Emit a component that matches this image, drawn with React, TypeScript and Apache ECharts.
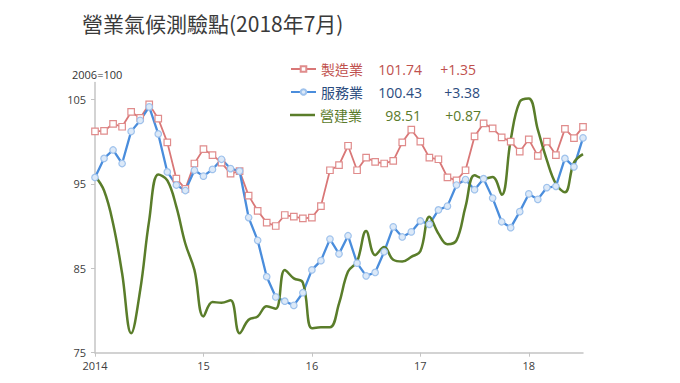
import React, { useEffect, useRef } from "react";
import * as echarts from "echarts";

// ---- data ----
const yearLabels = ["2014", "15", "16", "17", "18"];
const startYear = 2014;
const monthCount = 55; // Jan 2014 .. Jul 2018

const manufacturing = [
  101.2, 101.25, 102.1, 101.75, 103.5, 102.8, 104.4, 102.7, 99.9, 95.6, 94.4, 97.4,
  99.1, 98.4, 97.5, 96.2, 96.5, 93.6, 91.8, 90.4, 90.0, 91.3, 91.1, 90.9,
  91.0, 92.35, 96.6, 97.2, 99.5, 96.6, 98.1, 97.6, 97.4, 97.7, 99.9, 101.4,
  100.0, 98.1, 97.9, 95.75, 95.4, 96.6, 100.6, 102.15, 101.55, 100.5, 100.0, 98.8,
  100.26, 98.3, 100.0, 98.4, 101.5, 100.4, 101.74,
];
const services = [
  95.75, 98.0, 99.0, 97.4, 101.2, 102.5, 104.1, 100.9, 96.4, 94.85, 94.2, 96.6,
  95.9, 96.7, 97.9, 96.8, 96.5, 91.0, 88.3, 84.0, 81.6, 81.1, 80.6, 82.1,
  84.8, 85.9, 88.45, 86.7, 88.85, 85.6, 84.1, 84.5, 86.95, 89.9, 88.7, 89.3,
  90.6, 90.2, 91.9, 92.35, 94.85, 95.5, 94.3, 95.6, 93.3, 90.5, 89.8, 91.7,
  93.8, 93.15, 94.55, 94.7, 98.0, 97.0, 100.43,
];
const construction = [
  95.9, 94.2, 90.3, 84.4, 77.3, 82.4, 90.7, 96.1, 95.4, 92.3, 87.9, 84.8,
  79.3, 81.0, 80.9, 81.2, 77.3, 78.9, 79.3, 80.5, 80.2, 84.8, 83.8, 83.3,
  77.9, 78.0, 78.0, 80.8, 84.6, 85.8, 89.4, 86.55, 87.5, 86.0, 85.8, 86.35,
  87.0, 91.1, 89.1, 87.85, 88.3, 92.3, 96.0, 95.6, 95.8, 93.7, 100.2, 104.7,
  105.1, 101.4, 97.8, 95.0, 94.0, 97.5, 98.51,
];
const seriesNames = ["製造業", "服務業", "營建業"];
const latestValues = ["101.74", "100.43", "98.51"];
const changes = ["+1.35", "+3.38", "+0.87"];
const yTicks = [75, 85, 95, 105];

const months: string[] = [];
for (let i = 0; i < monthCount; i++) {
  months.push(`${startYear + Math.floor(i / 12)}-${(i % 12) + 1}`);
}

const FONT = "'Noto Sans CJK TC', 'Noto Sans', sans-serif";
const NUMFONT = "'Open Sans', 'Noto Sans CJK TC', sans-serif";

const legendColors = ["#c0504d", "#2b4c7e", "#5a7a2a"];

function makeLegend(i: number, top: number, dWidth: number, lineOnly = false) {
  const item: any = { name: seriesNames[i] };
  if (lineOnly) {
    item.icon = "rect";
    item.itemStyle = { color: "#5a7d2a" };
  }
  return {
    orient: "vertical",
    left: 290,
    top,
    itemWidth: 25,
    itemHeight: lineOnly ? 2.5 : 7,
    itemGap: 5,
    padding: 0,
    selectedMode: false,
    data: [item],
    formatter: () => `{n|${seriesNames[i]}}{v|${latestValues[i]}}{d|${changes[i]}}`,
    textStyle: {
      color: legendColors[i],
      fontSize: 14,
      fontFamily: NUMFONT,
      rich: {
        n: { width: 58, fontSize: 14, fontFamily: FONT, color: legendColors[i] },
        v: { width: 43, align: "right", fontSize: 14, fontFamily: NUMFONT, color: legendColors[i] },
        d: { width: dWidth, align: "right", fontSize: 14, fontFamily: NUMFONT, color: legendColors[i] },
      },
    },
  };
}

export default function App() {
  const ref = useRef<HTMLDivElement>(null);
  useEffect(() => {
    if (!ref.current) return;
    const chart = echarts.init(ref.current, undefined, { renderer: "svg" });
    const axisColor = "#c4c4c4";
    chart.setOption({
      animation: false,
      backgroundColor: "#ffffff",
      graphic: [
        {
          type: "text",
          x: 82,
          y: 23,
          style: {
            text: "營業氣候測驗點(2018年7月)",
            font: `21px ${FONT}`,
            fill: "#3a3a3a",
            textVerticalAlign: "middle",
          },
        },
        {
          type: "text",
          x: 72,
          y: 74,
          style: {
            text: "2006=100",
            font: `11px ${NUMFONT}`,
            fill: "#333333",
            textVerticalAlign: "middle",
          },
        },
      ],
      legend: [makeLegend(0, 62, 54), makeLegend(1, 85, 58), makeLegend(2, 108, 60, true)],
      grid: { left: 95, right: 97, top: 82.4, bottom: 30.3, containLabel: false },
      xAxis: {
        type: "category",
        data: months,
        boundaryGap: false,
        axisLine: { lineStyle: { color: axisColor, width: 1.5 } },
        axisTick: {
          interval: (idx: number) => idx % 12 === 0,
          length: 4,
          lineStyle: { color: axisColor },
        },
        axisLabel: {
          interval: (idx: number) => idx % 12 === 0,
          formatter: (_v: string, idx: number) => yearLabels[Math.floor(idx / 12)] ?? "",
          color: "#404040",
          fontSize: 11,
          fontFamily: NUMFONT,
          margin: 7,
        },
        splitLine: { show: false },
      },
      yAxis: {
        type: "value",
        min: 75,
        max: 107,
        axisLine: { show: true, lineStyle: { color: axisColor, width: 1.5 } },
        axisTick: { show: true, length: 4, customValues: yTicks, lineStyle: { color: axisColor } },
        axisLabel: {
          customValues: yTicks,
          color: "#404040",
          fontSize: 11,
          fontFamily: NUMFONT,
          margin: 9,
        },
        splitLine: { show: false },
      },
      series: [
        {
          name: seriesNames[0],
          type: "line",
          data: manufacturing,
          symbol: "rect",
          symbolSize: 6.5,
          showAllSymbol: true,
          itemStyle: { color: "#ffffff", borderColor: "#e08c8c", borderWidth: 1.2 },
          lineStyle: { color: "#d97777", width: 1.8 },
        },
        {
          name: seriesNames[1],
          type: "line",
          data: services,
          symbol: "circle",
          symbolSize: 6.5,
          showAllSymbol: true,
          itemStyle: { color: "#dce9f8", borderColor: "#9fc2ec", borderWidth: 1.2 },
          lineStyle: { color: "#4a8ddc", width: 2.3 },
        },
        {
          name: seriesNames[2],
          type: "line",
          data: construction,
          symbol: "none",
          smooth: 0.4,
          lineStyle: { color: "#5a7d2a", width: 2.5 },
          itemStyle: { color: "#5a7d2a" },
        },
      ],
    });
    return () => chart.dispose();
  }, []);
  return (
    <div
      ref={ref}
      style={{ position: "absolute", left: 0, top: 0, width: 680, height: 383 }}
    />
  );
}
